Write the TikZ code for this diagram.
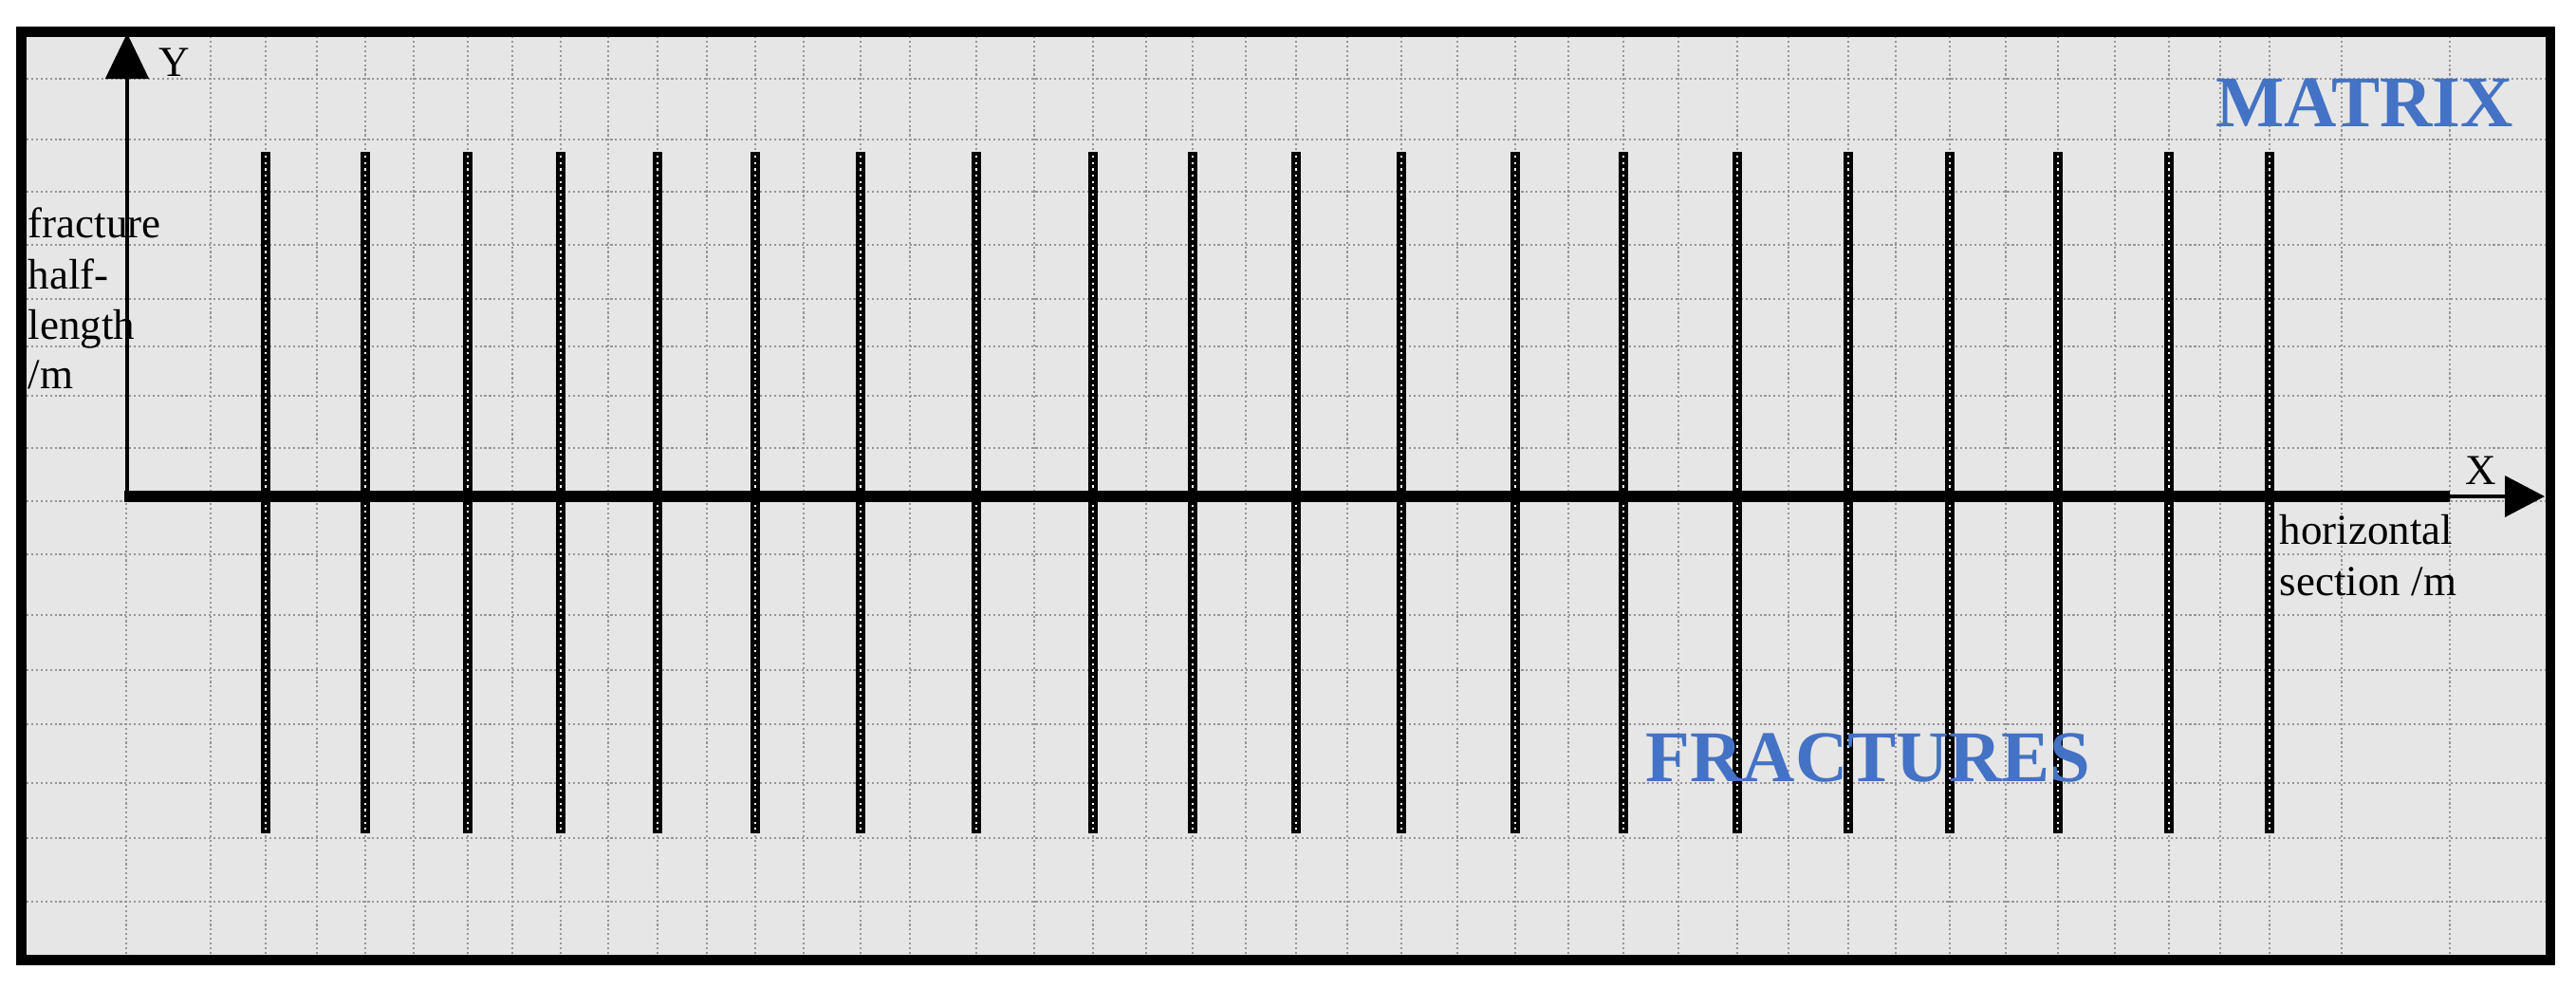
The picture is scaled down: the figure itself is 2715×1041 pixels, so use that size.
\documentclass[tikz,border=0pt]{standalone}
\usepackage{fontspec}
\setmainfont{Liberation Serif}
\usetikzlibrary{arrows.meta}
\definecolor{panelgray}{RGB}{230,230,230}
\definecolor{gridgray}{RGB}{150,150,150}
\definecolor{myblue}{RGB}{68,114,196}
\tikzset{
  gridline/.style={draw=gridgray, line width=0.62pt, dash pattern=on 0.6pt off 0.8pt},
  fracbar/.style={draw=black, line width=2.95pt},
  fracdots/.style={draw=white, line width=0.75pt, dash pattern=on 0.65pt off 1.25pt},
  lbl/.style={inner sep=0pt, font=\fontsize{12.8pt}{15pt}\selectfont, anchor=base west},
  bigword/.style={inner sep=0pt, font=\fontsize{21.8pt}{26pt}\selectfont\bfseries, text=myblue, anchor=base},
}
\begin{document}
\begin{tikzpicture}[x=0.01cm, y=-0.01cm]
  \useasboundingbox (0,0) rectangle (2715,1041);
  % panel
  \path[fill=panelgray] (22.5,33.5) rectangle (2688,1011.5);
  % grid
  \foreach \gx in {133,222,280,334,385,436,493,540,591,641,693,745,796,847,907,959,1029,1090,1152,1208,1257,1313,1366,1420,1477,1536,1597,1653,1711,1769,1831,1885,1948,1998,2055,2114,2169,2229,2286,2340,2392,2468,2582}
    \draw[gridline] (\gx,38) -- (\gx,1005);
  \foreach \gy in {83,147,202,258,315,365,417,472,528,584,648,706,763,825,883,950}
    \draw[gridline] (28,\gy) -- (2683,\gy);
  % fractures
  \foreach \fx in {280,385,493,591,693,796,907,1029,1152,1257,1366,1477,1597,1711,1831,1948,2055,2169,2286,2392} {
    \draw[fracbar] (\fx,160) -- (\fx,878);
    \draw[fracdots] (\fx,164) -- (\fx,874);
  }
  % axes
  \coordinate (O) at (134,523);
  \coordinate (ytop) at (134,35);
  \coordinate (xthick) at (2582,523);
  \coordinate (xtip) at (2682,523);
  \draw[line width=1.4pt, -{Triangle[length=0.48cm, width=0.45cm]}] (134,529) -- (ytop);
  \draw[line width=3.4pt] (131,523) -- (xthick);
  \draw[line width=1.1pt, -{Triangle[length=0.42cm, width=0.43cm]}] (xthick) -- (xtip);
  % frame
  \draw[line width=3.1pt] (22.5,33.5) rectangle (2688,1011.5);
  % labels
  \node[lbl] (ylab) at (167,80) {Y};
  \node[lbl] (xlab) at (2598,510) {X};
  \node[lbl] (fl1) at (29,250) {fracture};
  \node[lbl] (fl2) at (29,304) {half-};
  \node[lbl] (fl3) at (29,357) {length};
  \node[lbl] (fl4) at (29,409) {/m};
  \node[lbl] (hl1) at (2402,573) {horizontal};
  \node[lbl] (hl2) at (2402,627) {section /m};
  \node[bigword] (matrix) at (2492,133) {MATRIX};
  \node[bigword] (fractures) at (1969,823) {FRACTURES};
\end{tikzpicture}
\end{document}
